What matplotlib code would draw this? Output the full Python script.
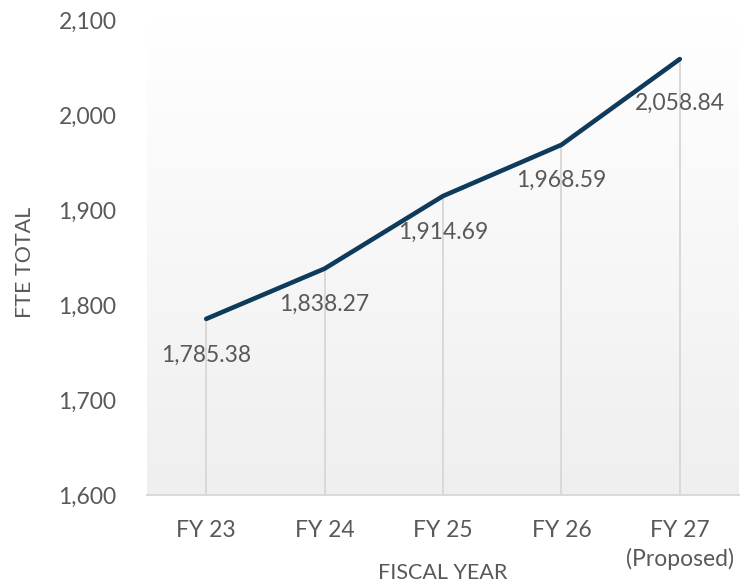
import numpy as np
import matplotlib
matplotlib.use("Agg")
import matplotlib.pyplot as plt
from matplotlib.colors import LinearSegmentedColormap

plt.rcParams['font.family'] = ['Lato', 'DejaVu Sans']

years = ["FY 23", "FY 24", "FY 25", "FY 26", "FY 27\n(Proposed)"]
fte_total = [1785.38, 1838.27, 1914.69, 1968.59, 2058.84]
y_ticks = [1600, 1700, 1800, 1900, 2000, 2100]

text_color = "#595959"
line_color = "#0e3b5c"
rule_color = "#d9d9d9"

fig = plt.figure(figsize=(7.51, 5.84), dpi=100)
ax = fig.add_axes([147 / 751, 1 - 495 / 584, 592 / 751, 475 / 584])

x = np.arange(len(years))
ax.set_xlim(-0.5, len(years) - 0.5)
ax.set_ylim(y_ticks[0], y_ticks[-1])

# soft vertical gradient in the plot area
grad = np.linspace(0, 1, 256).reshape(-1, 1)
cmap = LinearSegmentedColormap.from_list("bg", ["#efefef", "#ffffff"])
ax.imshow(grad, aspect="auto", cmap=cmap, origin="lower",
          extent=(-0.5, len(years) - 0.5, y_ticks[0], y_ticks[-1]), zorder=0)

# drop lines from each point down to the axis
ax.vlines(x, y_ticks[0], fte_total, color=rule_color, lw=1.4, zorder=1)

ax.plot(x, fte_total, color=line_color, lw=3.3, solid_capstyle="round",
        solid_joinstyle="round", zorder=3)

offsets = [-36, -36, -36, -36, -44]
for xi, v, off in zip(x, fte_total, offsets):
    ax.annotate(f"{v:,.2f}", (xi, v), xytext=(0, off * 0.72),
                textcoords="offset points", ha="center", va="center",
                fontsize=16.5, color=text_color, zorder=4)

for s in ["top", "right", "left"]:
    ax.spines[s].set_visible(False)
ax.spines["bottom"].set_color(rule_color)
ax.spines["bottom"].set_linewidth(1.4)

ax.set_xticks(x)
ax.set_xticklabels(years, fontsize=16.5, color=text_color, linespacing=1.4)
ax.set_yticks(y_ticks)
ax.set_yticklabels([f"{t:,}" for t in y_ticks], fontsize=16.5, color=text_color)
ax.tick_params(axis="both", length=0)
ax.tick_params(axis="x", pad=18)
ax.tick_params(axis="y", pad=22)

fig.text(25 / 751, 1 - 262 / 584, "FTE TOTAL", rotation=90, ha="center",
         va="center", fontsize=15.5, color=text_color)
fig.text(443 / 751, 1 - 573 / 584, "FISCAL YEAR", ha="center", va="center",
         fontsize=15.5, color=text_color)

fig.savefig("out.png", dpi=100)
